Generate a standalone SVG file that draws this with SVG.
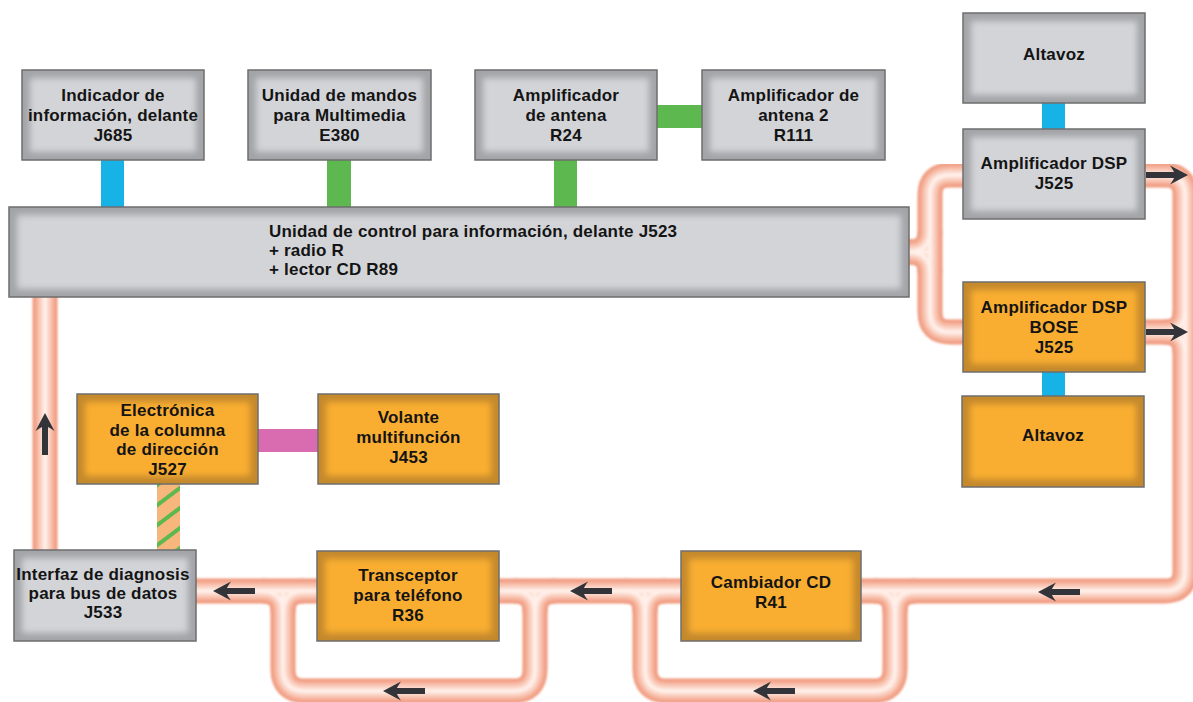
<svg xmlns="http://www.w3.org/2000/svg" xmlns:xlink="http://www.w3.org/1999/xlink" width="1193" height="702" viewBox="0 0 1193 702">
<style>
text{font-family:"Liberation Sans",Arial,sans-serif;font-weight:bold;font-size:17px;fill:#141414;letter-spacing:0.2px}
.c{text-anchor:middle}
.ge{fill:#a2a4a8}
.gm{fill:#d3d4d8}
.oe{fill:#c4892c}
.om{fill:#f9ae33}
.bd{fill:none;stroke:#6e6e6e;stroke-width:1.5}
.t1{stroke:#f09a7e;stroke-width:25;fill:none}
.t2{stroke:#f5ae97;stroke-width:20;fill:none}
.t3{stroke:#f9c7b5;stroke-width:14;fill:none}
.t4{stroke:#fcded3;stroke-width:8;fill:none}
.t5{stroke:#fff0ea;stroke-width:3;fill:none}
.blue{fill:#17b3e6}
.green{fill:#5cb84f}
.pink{fill:#d96bb0}
.ar{fill:#33333a}
</style>
<defs>
<filter id="bl" x="-10%" y="-20%" width="120%" height="140%"><feGaussianBlur stdDeviation="3"/></filter>
<filter id="soft" x="-2%" y="-2%" width="104%" height="104%"><feGaussianBlur stdDeviation="1.1"/></filter>
<pattern id="stripe" patternUnits="userSpaceOnUse" width="16" height="16" patternTransform="rotate(53)">
<rect width="16" height="16" fill="#f6b67c"/><rect width="4" height="16" fill="#5cb84f"/>
</pattern>
<path id="arL" d="M0,0 L18,-9.5 Q14.5,-4.5 14,-3 L42,-3 L42,3 L14,3 Q14.5,4.5 18,9.5 Z"/>
<g id="tubegeom" fill="none">
<path d="M45 295 V555"/>
<path d="M190 591 H1165 Q1185 591 1185 571 V195 Q1185 175 1165 175 H1140"/>
<path d="M1140 332 H1185"/>
<path d="M1164 332 Q1185 332 1185 311"/>
<path d="M1164 332 Q1185 332 1185 353"/>
<path d="M970 175 H950 Q930 175 930 195 V312 Q930 332 950 332 H970"/>
<path d="M903 252 H930"/>
<path d="M909 252 Q930 252 930 231"/>
<path d="M909 252 Q930 252 930 273"/>
<path d="M283 591 V669 Q283 691 305 691 H513 Q535 691 535 669 V591"/>
<path d="M262 591 Q283 591 283 612"/>
<path d="M304 591 Q283 591 283 612"/>
<path d="M514 591 Q535 591 535 612"/>
<path d="M556 591 Q535 591 535 612"/>
<path d="M645 591 V669 Q645 691 667 691 H873 Q895 691 895 669 V591"/>
<path d="M624 591 Q645 591 645 612"/>
<path d="M666 591 Q645 591 645 612"/>
<path d="M874 591 Q895 591 895 612"/>
<path d="M916 591 Q895 591 895 612"/>
</g>
</defs>
<rect width="1193" height="702" fill="#ffffff"/>
<g id="connectors">
<g id="bus" filter="url(#soft)">
<use xlink:href="#tubegeom" class="t1"/>
<use xlink:href="#tubegeom" class="t2"/>
<use xlink:href="#tubegeom" class="t3"/>
<use xlink:href="#tubegeom" class="t4"/>
<use xlink:href="#tubegeom" class="t5"/>
</g>
<rect class="blue" x="101" y="159" width="23" height="49"/>
<rect class="green" x="327" y="159" width="24" height="49"/>
<rect class="green" x="554" y="159" width="23" height="49"/>
<rect class="green" x="656" y="105" width="47" height="23"/>
<rect class="blue" x="1042" y="102" width="23" height="28"/>
<rect class="blue" x="1042" y="371" width="23" height="26"/>
<rect class="pink" x="257" y="429" width="62" height="23"/>
<rect x="157" y="483" width="23" height="68" fill="url(#stripe)"/>
</g>
<g id="J685">
<rect class="ge" x="22" y="70" width="182" height="90"/><rect class="gm" x="30" y="78" width="166" height="74" filter="url(#bl)"/><rect class="bd" x="22" y="70" width="182" height="90"/>
<text class="c" x="113" y="101">Indicador de</text><text class="c" x="113" y="121">información, delante</text><text class="c" x="113" y="141">J685</text>
</g>
<g id="E380">
<rect class="ge" x="248" y="70" width="183" height="90"/><rect class="gm" x="256" y="78" width="167" height="74" filter="url(#bl)"/><rect class="bd" x="248" y="70" width="183" height="90"/>
<text class="c" x="339.5" y="101">Unidad de mandos</text><text class="c" x="339.5" y="121">para Multimedia</text><text class="c" x="339.5" y="141">E380</text>
</g>
<g id="R24">
<rect class="ge" x="475" y="70" width="182" height="90"/><rect class="gm" x="483" y="78" width="166" height="74" filter="url(#bl)"/><rect class="bd" x="475" y="70" width="182" height="90"/>
<text class="c" x="566" y="101">Amplificador</text><text class="c" x="566" y="121">de antena</text><text class="c" x="566" y="141">R24</text>
</g>
<g id="R111">
<rect class="ge" x="702" y="70" width="183" height="90"/><rect class="gm" x="710" y="78" width="167" height="74" filter="url(#bl)"/><rect class="bd" x="702" y="70" width="183" height="90"/>
<text class="c" x="793.5" y="101">Amplificador de</text><text class="c" x="793.5" y="121">antena 2</text><text class="c" x="793.5" y="141">R111</text>
</g>
<g id="J523">
<rect class="ge" x="9" y="207" width="900" height="90"/><rect class="gm" x="17" y="215" width="884" height="74" filter="url(#bl)"/><rect class="bd" x="9" y="207" width="900" height="90"/>
<text x="269" y="237">Unidad de control para información, delante J523</text><text x="269" y="256">+ radio R</text><text x="269" y="275">+ lector CD R89</text>
</g>
<g id="Altavoz1">
<rect class="ge" x="963" y="13" width="182" height="90"/><rect class="gm" x="971" y="21" width="166" height="74" filter="url(#bl)"/><rect class="bd" x="963" y="13" width="182" height="90"/>
<text class="c" x="1054" y="60">Altavoz</text>
</g>
<g id="J525">
<rect class="ge" x="963" y="129" width="182" height="90"/><rect class="gm" x="971" y="137" width="166" height="74" filter="url(#bl)"/><rect class="bd" x="963" y="129" width="182" height="90"/>
<text class="c" x="1054" y="169">Amplificador DSP</text><text class="c" x="1054" y="189">J525</text>
</g>
<g id="J525BOSE">
<rect class="oe" x="963" y="282" width="182" height="90"/><rect class="om" x="971" y="290" width="166" height="74" filter="url(#bl)"/><rect class="bd" x="963" y="282" width="182" height="90"/>
<text class="c" x="1054" y="313">Amplificador DSP</text><text class="c" x="1054" y="333">BOSE</text><text class="c" x="1054" y="353">J525</text>
</g>
<g id="Altavoz2">
<rect class="oe" x="962" y="396" width="182" height="91"/><rect class="om" x="970" y="404" width="166" height="75" filter="url(#bl)"/><rect class="bd" x="962" y="396" width="182" height="91"/>
<text class="c" x="1053" y="441">Altavoz</text>
</g>
<g id="J527">
<rect class="oe" x="77" y="394" width="181" height="90"/><rect class="om" x="85" y="402" width="165" height="74" filter="url(#bl)"/><rect class="bd" x="77" y="394" width="181" height="90"/>
<text class="c" x="167.5" y="416">Electrónica</text><text class="c" x="167.5" y="435.5">de la columna</text><text class="c" x="167.5" y="455">de dirección</text><text class="c" x="167.5" y="474.5">J527</text>
</g>
<g id="J453">
<rect class="oe" x="318" y="394" width="181" height="90"/><rect class="om" x="326" y="402" width="165" height="74" filter="url(#bl)"/><rect class="bd" x="318" y="394" width="181" height="90"/>
<text class="c" x="408.5" y="423">Volante</text><text class="c" x="408.5" y="443">multifunción</text><text class="c" x="408.5" y="463">J453</text>
</g>
<g id="J533">
<rect class="ge" x="14" y="550" width="182" height="91"/><rect class="gm" x="22" y="558" width="166" height="75" filter="url(#bl)"/><rect class="bd" x="14" y="550" width="182" height="91"/>
<text class="c" x="103" y="580">Interfaz de diagnosis</text><text class="c" x="103" y="599">para bus de datos</text><text class="c" x="103" y="618">J533</text>
</g>
<g id="R36">
<rect class="oe" x="317" y="551" width="182" height="90"/><rect class="om" x="325" y="559" width="166" height="74" filter="url(#bl)"/><rect class="bd" x="317" y="551" width="182" height="90"/>
<text class="c" x="408" y="581">Transceptor</text><text class="c" x="408" y="601">para teléfono</text><text class="c" x="408" y="621">R36</text>
</g>
<g id="R41">
<rect class="oe" x="681" y="551" width="180" height="90"/><rect class="om" x="689" y="559" width="164" height="74" filter="url(#bl)"/><rect class="bd" x="681" y="551" width="180" height="90"/>
<text class="c" x="771" y="588">Cambiador CD</text><text class="c" x="771" y="608">R41</text>
</g>
<g id="arrows" class="ar">
<use xlink:href="#arL" transform="translate(213,591)"/>
<use xlink:href="#arL" transform="translate(570,591)"/>
<use xlink:href="#arL" transform="translate(1038,592)"/>
<use xlink:href="#arL" transform="translate(383,691)"/>
<use xlink:href="#arL" transform="translate(753,691)"/>
<use xlink:href="#arL" transform="translate(45,413) rotate(90)"/>
<use xlink:href="#arL" transform="translate(1188,175) rotate(180)"/>
<use xlink:href="#arL" transform="translate(1188,332) rotate(180)"/>
</g>
</svg>
